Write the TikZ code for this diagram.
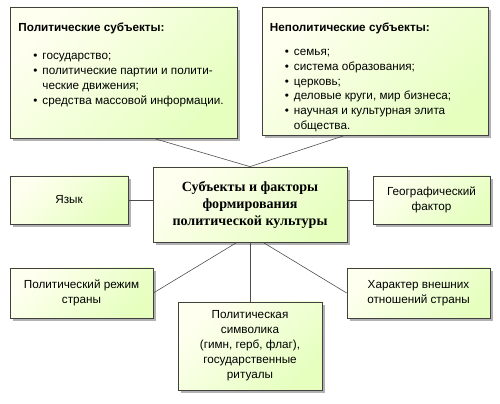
\documentclass[tikz,border=0pt]{standalone}
\usepackage{fontspec}
\setmainfont{Liberation Sans}
\newfontfamily\titolo{Liberation Serif}
\usetikzlibrary{shadows}

% voce di elenco con pallino
\newcommand{\voce}[1]{\par\hangindent=0.72cm\hangafter=0\noindent\hspace*{-0.27cm}\makebox[0.27cm][l]{\textbullet}#1}

\begin{document}
\begin{tikzpicture}[x=0.03cm, y=-0.03cm]
	% Stile dei blocchi
	\tikzset{blocco/.style={rectangle, draw=black!75, line width=0.6pt,
			top color=green!3!yellow!6, bottom color=green!40!yellow!25!white, shading angle=45,
			drop shadow={shadow xshift=0.08cm, shadow yshift=-0.08cm, fill=black!30, opacity=1},
			align=center, inner sep=0pt, font=\fontsize{10}{12.8}\selectfont},
		linea/.style={draw=black!70, line width=0.5pt}}
	\useasboundingbox (0,0) rectangle (500,404);
	
	% Blocchi
	\node[blocco, minimum width=6.81cm, minimum height=3.93cm] (pol) at (123.5,72.5)
		{\parbox[c][3.6cm][t]{6.3cm}{\raggedright\vspace{0.3cm}\textbf{Политические субъекты:}\vspace{0.4cm}
			\voce{государство;}
			\voce{политические партии и полити-\newline ческие движения;}
			\voce{средства массовой информации.}}};
	\node[blocco, minimum width=6.78cm, minimum height=3.84cm, font=\fontsize{10}{12.5}\selectfont] (nonpol) at (375,71)
		{\parbox[c][3.5cm][t]{6.3cm}{\raggedright\vspace{0.3cm}\textbf{Неполитические субъекты:}\vspace{0.3cm}
			\voce{семья;}
			\voce{система образования;}
			\voce{церковь;}
			\voce{деловые круги, мир бизнеса;}
			\voce{научная и культурная элита\newline общества.}}};
	\node[blocco, minimum width=5.82cm, minimum height=2.25cm,
		font=\titolo\bfseries\fontsize{12}{14.5}\selectfont] (centro) at (250,204.5)
		{Субъекты и факторы\\формирования\\политической культуры};
	\node[blocco, minimum width=3.54cm, minimum height=1.44cm] (lingua) at (69,200) {Язык};
	\node[blocco, minimum width=3.51cm, minimum height=1.44cm] (geo) at (431.5,200) {Географический\\фактор};
	\node[blocco, minimum width=4.29cm, minimum height=1.5cm] (regime) at (81.5,293) {Политический режим\\страны};
	\node[blocco, minimum width=4.29cm, minimum height=1.5cm] (esteri) at (418.5,293) {Характер внешних\\отношений страны};
	\node[blocco, minimum width=4.32cm, minimum height=2.64cm] (simboli) at (250,346)
		{Политическая\\символика\\(гимн, герб, флаг),\\государственные\\ритуалы};
	
	% Collegamenti
	\draw[linea] ([xshift=0.9cm]pol.south) -- (centro.north);
	\draw[linea] ([xshift=-0.9cm]nonpol.south) -- (centro.north);
	\draw[linea] (lingua.east) -- (lingua.east -| centro.west);
	\draw[linea] (geo.west) -- (geo.west -| centro.east);
	\draw[linea] (regime.east) -- ([xshift=-0.39cm]centro.south);
	\draw[linea] (esteri.west) -- ([xshift=0.39cm]centro.south);
	\draw[linea] (centro.south) -- (simboli.north);
\end{tikzpicture}
\end{document}
